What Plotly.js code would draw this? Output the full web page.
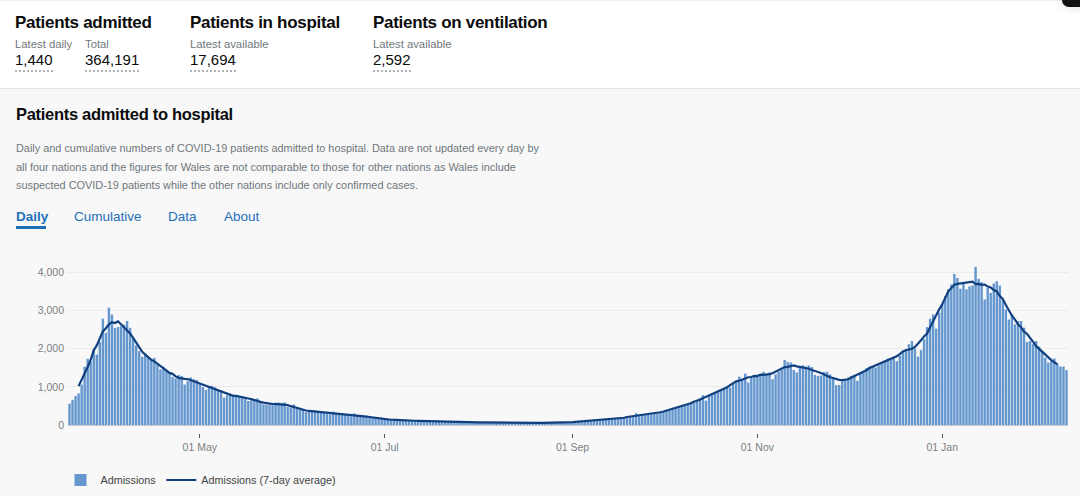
<!DOCTYPE html>
<html>
<head>
<meta charset="utf-8">
<script src="https://cdn.plot.ly/plotly-3.0.1.min.js"></script>
<style>
  html, body { margin:0; padding:0; width:1080px; height:496px; overflow:hidden; background:#fff;
    font-family: "Liberation Sans", Arial, sans-serif; color:#0b0c0c; }
  .abs { position:absolute; white-space:nowrap; }
  #topline { position:absolute; left:0; top:0; width:1080px; height:1px; background:#e8f0f8; }
  #corner { position:absolute; left:1062px; top:-10px; width:30px; height:17px; background:#111; border-radius:7px;
    box-shadow: 0 0 10px rgba(0,0,0,0.15); }
  .h1 { font-weight:bold; font-size:17px; letter-spacing:-0.3px; }
  .lbl { font-size:11.3px; color:#6f777b; }
  .num { font-size:15px; color:#0b0c0c; padding-bottom:2px; border-bottom:2px dotted #b1b4b6; }
  #panel { position:absolute; left:0; top:88px; width:1080px; height:408px; background:#f8f8f8;
    border-top:1px solid #e6e6e6; }
  .h2 { font-weight:bold; font-size:16.5px; letter-spacing:-0.3px; }
  .desc { font-size:10.9px; color:#6f777b; line-height:18.5px; }
  .tab { font-size:13.5px; color:#1d70b8; }
  #chart { position:absolute; left:0; top:240px; width:1080px; height:256px; }
</style>
</head>
<body>
<div id="topline"></div>
<div id="corner"></div>

<div class="abs h1" style="left:15px; top:13px;">Patients admitted</div>
<div class="abs lbl" style="left:15px; top:38px;">Latest daily</div>
<div class="abs lbl" style="left:85px; top:38px;">Total</div>
<div class="abs num" style="left:15px; top:51px;">1,440</div>
<div class="abs num" style="left:85px; top:51px;">364,191</div>

<div class="abs h1" style="left:190px; top:13px;">Patients in hospital</div>
<div class="abs lbl" style="left:190px; top:38px;">Latest available</div>
<div class="abs num" style="left:190px; top:51px;">17,694</div>

<div class="abs h1" style="left:373px; top:13px;">Patients on ventilation</div>
<div class="abs lbl" style="left:373px; top:38px;">Latest available</div>
<div class="abs num" style="left:373px; top:51px;">2,592</div>

<div id="panel"></div>
<div class="abs h2" style="left:16px; top:105px;">Patients admitted to hospital</div>
<div class="abs desc" style="left:16px; top:139px;">Daily and cumulative numbers of COVID-19 patients admitted to hospital. Data are not updated every day by<br>all four nations and the figures for Wales are not comparable to those for other nations as Wales include<br>suspected COVID-19 patients while the other nations include only confirmed cases.</div>
<div class="abs tab" style="left:16px; top:209px; font-weight:bold;">Daily</div>
<div class="abs" style="left:16px; top:226px; width:30px; height:3px; background:#1d70b8;"></div>
<div class="abs tab" style="left:74px; top:209px;">Cumulative</div>
<div class="abs tab" style="left:168px; top:209px;">Data</div>
<div class="abs tab" style="left:224px; top:209px;">About</div>

<div id="chart"></div>

<script>
// ---- data ----
const startDate = '2020-03-19';
const mar2020 = [560,660,760,830,1060,1530,1740,1660,1980,1850,2180,2790,2420];
const apr2020 = [3080,2900,2550,2570,2590,2630,2730,2550,2270,2090,1940,1790,1850,1770,1740,1760,1590,1460,1530,1410,1380,1260,1220,1310,1290,1060,1150,1250,1200,1180];
const may2020 = [1100,1000,920,1010,1030,990,920,910,720,780,820,780,770,750,740,720,630,650,680,700,630,540,530,520,510,560,590,580,590,470,460];
const jun2020 = [540,420,400,410,340,350,370,380,360,350,330,290,280,350,300,280,270,285,240,230,305,250,255,245,240,190,180,185,175,170];
const jul2020 = [150,140,135,130,140,130,125,120,115,120,110,105,110,100,100,95,100,90,85,90,85,80,85,80,78,82,78,74,78,72,74];
const aug2020 = [70,66,68,64,66,62,64,62,60,62,63,58,60,60,56,58,60,56,58,55,58,60,56,58,60,58,62,60,58,62,64];
const sep2020 = [72,84,88,98,96,110,104,118,128,124,136,140,150,146,162,170,166,188,196,214,232,310,248,268,282,266,278,292,302,338];
const oct2020 = [350,380,400,430,450,480,500,510,530,550,580,620,700,785,640,780,830,840,880,920,950,1000,985,1080,1130,1270,1200,1350,1115,1250,1290];
const nov2020 = [1300,1310,1395,1330,1380,1200,1330,1400,1460,1710,1660,1640,1445,1380,1550,1570,1540,1560,1520,1315,1290,1300,1395,1400,1330,1250,1045,1050,1160,1200];
const dec2020 = [1250,1290,1300,1160,1380,1420,1500,1535,1550,1510,1570,1620,1690,1745,1710,1795,1675,1815,1920,1990,2120,2205,2005,1795,1970,2250,2570,2790,2905,2530,2950];
const jan2021 = [3165,3380,3560,3690,3965,3860,3575,3730,3560,3640,3665,4150,3835,3750,3295,3600,3470,3715,3775,3660,3280,3035,2770,2905,2640,2730,2730,2555,2180,2205,2120];
const feb2021 = [2205,2060,1945,1770,1640,1680,1745,1600,1535,1535,1440];

const tickDates = ['2020-05-01','2020-07-01','2020-09-01','2020-11-01','2021-01-01'];
const tickLabels = ['01 May','01 Jul','01 Sep','01 Nov','01 Jan'];
const yTicks = [0,1000,2000,3000,4000];

// ---- build ----
const admissions = [].concat(mar2020,apr2020,may2020,jun2020,jul2020,aug2020,sep2020,oct2020,nov2020,dec2020,jan2021,feb2021);
const dates = admissions.map((_, i) => {
  const d = new Date(startDate + 'T00:00:00Z');
  d.setUTCDate(d.getUTCDate() + i);
  return d.toISOString().slice(0,10);
});
// centred 7-day average of the daily admissions
const avgX = [], avgY = [];
for (let i = 3; i < admissions.length - 3; i++) {
  let s = 0;
  for (let k = -3; k <= 3; k++) s += admissions[i+k];
  avgX.push(dates[i]); avgY.push(s / 7);
}

const tickFont = {family:'"Liberation Sans", Arial, sans-serif', size:10.5, color:'#7b7f83'};

const traces = [
  {type:'bar', x:dates, y:admissions, name:'Admissions', marker:{color:'#6597cf'}, hoverinfo:'x+y'},
  {type:'scatter', mode:'lines', x:avgX, y:avgY, name:'Admissions (7-day average)', line:{color:'#12407f', width:2.2}},
  {type:'scatter', mode:'lines', x:[], y:[], xaxis:'x2', showlegend:false}
];

const range = ['2020-03-18 12:00', '2021-02-11 12:00'];
const layout = {
  width:1080, height:256,
  margin:{l:68, r:12, t:25, b:63, pad:0, autoexpand:false},
  paper_bgcolor:'rgba(0,0,0,0)', plot_bgcolor:'rgba(0,0,0,0)',
  bargap:0.2,
  showlegend:true,
  legend:{orientation:'h', xref:'container', yref:'container', x:0.056, xanchor:'left', y:0.0625, yanchor:'middle',
          font:{family:'"Liberation Sans", Arial, sans-serif', size:10.8, color:'#444'},
          bgcolor:'rgba(0,0,0,0)', itemwidth:30, tracegroupgap:0},
  xaxis:{type:'date', range:range, showticklabels:false, ticks:'', showgrid:false,
         showline:true, linecolor:'#c8c8c8', linewidth:1, zeroline:false, fixedrange:true},
  xaxis2:{type:'date', range:range, overlaying:'x', anchor:'free', position:0, side:'bottom',
          tickvals:tickDates, ticktext:tickLabels, ticks:'outside', ticklen:4, tickcolor:'#555',
          tickwidth:1, tickfont:tickFont, showgrid:false, showline:false, zeroline:false},
  yaxis:{domain:[0.0476, 1], range:[0, 4200], tickvals:yTicks, tickformat:',d', ticks:'',
         ticklabelstandoff:3,
         gridcolor:'#ebebeb', gridwidth:1, showline:false, zeroline:false, tickfont:tickFont}
};
Plotly.newPlot('chart', traces, layout, {displayModeBar:false, staticPlot:true});
</script>
</body>
</html>
